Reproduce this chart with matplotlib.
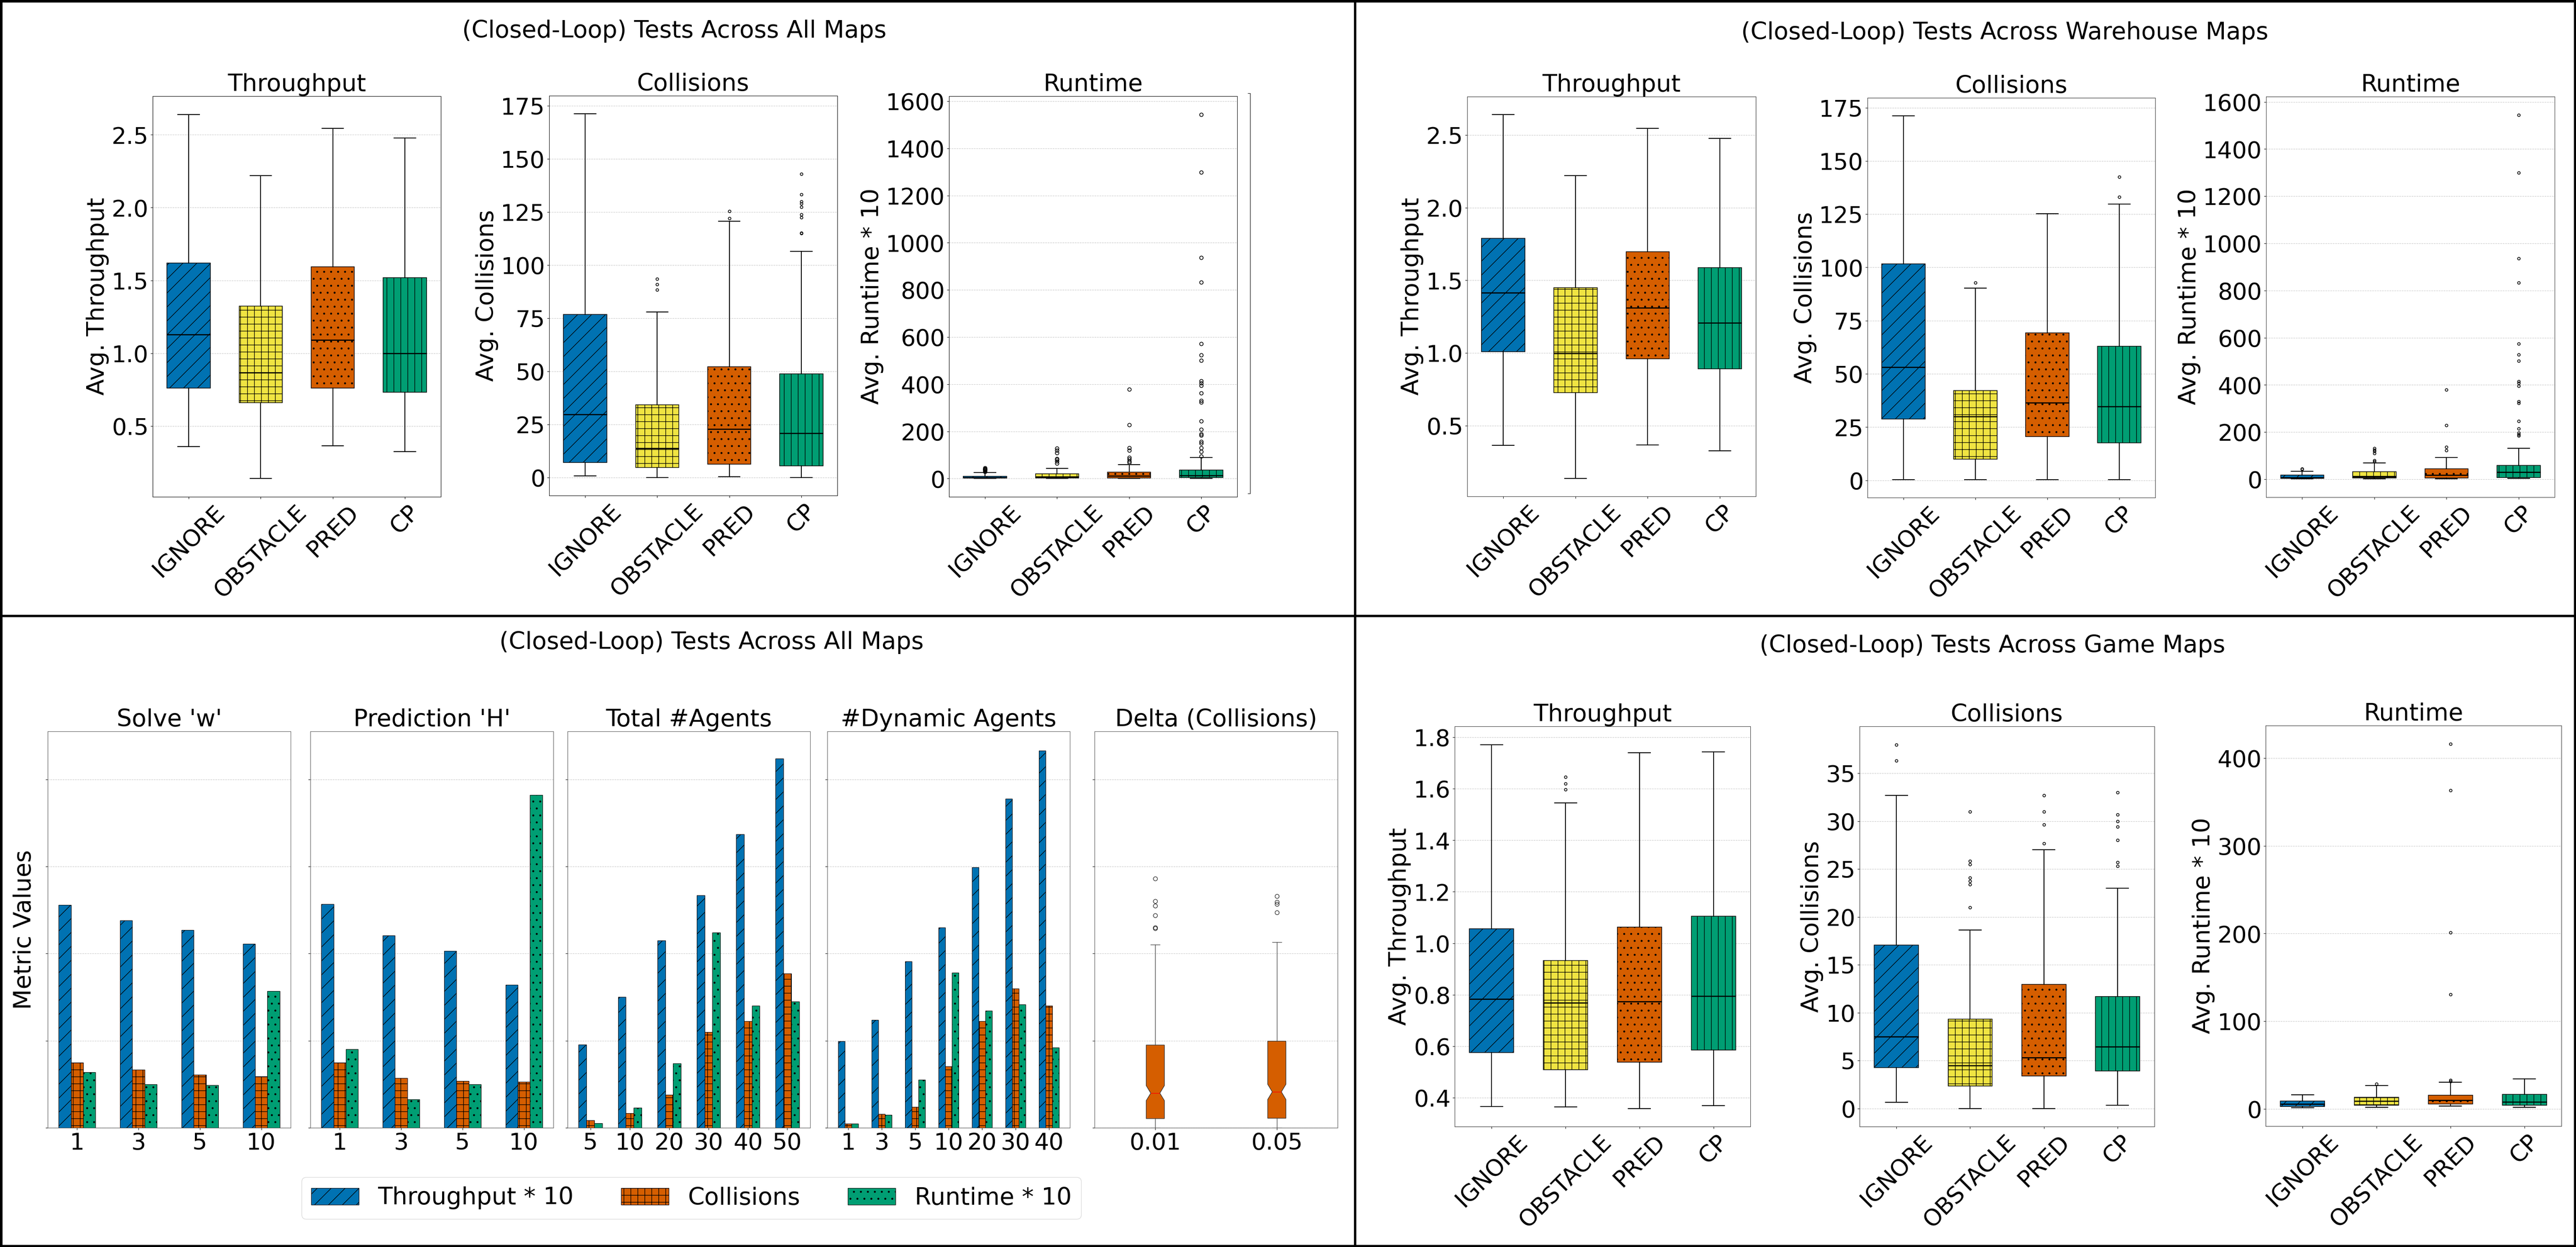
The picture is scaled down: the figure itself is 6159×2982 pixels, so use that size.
import numpy as np
import matplotlib
matplotlib.use('Agg')
import matplotlib.pyplot as plt
from matplotlib.patches import Patch, Rectangle
from matplotlib.lines import Line2D

W, H = 6159, 2982
DPI = 100

methods = ['IGNORE', 'OBSTACLE', 'PRED', 'CP']
colors = ['#0072B2', '#F0E442', '#D55E00', '#009E73']
hatches = ['/', '+', '.', '|']

# box stats: [whislo, q1, med, q3, whishi] per method
# --- all maps
all_thr = [[0.36, 0.76, 1.13, 1.62, 2.64], [0.14, 0.66, 0.867, 1.325, 2.22],
           [0.366, 0.762, 1.092, 1.593, 2.545], [0.325, 0.732, 1.0, 1.518, 2.477]]
all_thr_fliers = [[], [], [], []]
all_col = [[0.7, 6.9, 29.7, 76.6, 171.1], [0.0, 4.6, 13.7, 34.1, 77.9],
           [0.4, 6.3, 22.8, 52.1, 120.5], [0.0, 5.4, 20.8, 48.8, 106.4]]
all_col_fliers = [[], [88.4, 90.8, 93.4], [122.0, 125.3],
                  [114.8, 115.1, 122.4, 123.7, 127.2, 128.8, 129.8, 133.1, 142.9]]
all_rt = [[0, 2, 5, 10, 25], [0, 2, 8, 20, 43.6], [0, 3, 12, 27, 60], [0, 5, 13, 37, 89]]
all_rt_fliers = [[30, 33, 36, 38, 40, 42, 45],
                 [65, 74, 80, 85, 109, 119, 129],
                 [69, 74, 82, 89, 119, 131, 228, 379],
                 [94, 114, 131, 149, 156, 183, 189, 209, 243, 323, 330, 362, 395, 405,
                  414, 501, 524, 571, 832, 936, 1298, 1544]]

# --- warehouse maps
wh_thr = [[0.363, 1.008, 1.415, 1.79, 2.64], [0.138, 0.726, 0.997, 1.45, 2.22],
          [0.366, 0.959, 1.312, 1.696, 2.545], [0.328, 0.892, 1.209, 1.588, 2.477]]
wh_thr_fliers = [[], [], [], []]
wh_col = [[0.4, 28.7, 53.1, 101.7, 171.1], [0.4, 10.0, 30.0, 42.2, 90.3],
          [0.4, 20.5, 36.4, 69.2, 125.2], [0.4, 17.6, 34.6, 62.9, 129.7]]
wh_col_fliers = [[], [92.9], [], [133.0, 142.6]]
wh_rt = [[1, 3, 8, 17, 33], [1, 5, 13, 32, 70], [1, 5, 18, 45, 92], [3, 7, 30, 59, 132]]
wh_rt_fliers = [[42, 45], [75, 80, 110, 118, 125, 132], [122, 136, 229, 380],
                [184, 189, 196, 214, 246, 323, 330, 395, 407, 415, 502, 529, 574, 833,
                 936, 1299, 1545]]

# --- game maps
gm_thr = [[0.367, 0.575, 0.784, 1.056, 1.771], [0.364, 0.509, 0.768, 0.932, 1.544],
          [0.359, 0.538, 0.774, 1.062, 1.740], [0.370, 0.585, 0.795, 1.104, 1.743]]
gm_thr_fliers = [[], [1.597, 1.62, 1.645], [], []]
gm_col = [[0.63, 4.27, 7.49, 17.06, 32.7], [0.0, 2.34, 4.48, 9.33, 18.65],
          [0.0, 3.39, 5.31, 12.97, 27.0], [0.33, 3.89, 6.44, 11.67, 23.0]]
gm_col_fliers = [[36.3, 38.0], [21.0, 23.4, 23.75, 24.1, 25.5, 25.85, 31.0],
                 [27.65, 29.65, 31.0, 32.7], [25.3, 25.7, 28.0, 29.4, 30.0, 30.7, 33.0]]
gm_rt = [[1, 2.7, 5.5, 8.7, 16], [1.8, 4.1, 8.7, 13.3, 26.5],
         [3.2, 5.5, 10, 15.5, 30.2], [1.8, 4.1, 7.8, 16.5, 34.3]]
gm_rt_fliers = [[], [28.3], [31.5, 32.9, 130.3, 201, 363.4, 416.5], []]

# y tick values
thr_ticks = [0.5, 1.0, 1.5, 2.0, 2.5]
col_ticks = [0, 25, 50, 75, 100, 125, 150, 175]
rt_ticks = [0, 200, 400, 600, 800, 1000, 1200, 1400, 1600]
gm_thr_ticks = [0.4, 0.6, 0.8, 1.0, 1.2, 1.4, 1.6, 1.8]
gm_col_ticks = [0, 5, 10, 15, 20, 25, 30, 35]
gm_rt_ticks = [0, 100, 200, 300, 400]

# --- parameter sweeps (bar charts)
w_labels = ['1', '3', '5', '10']
w_thr = [25.6, 23.8, 22.7, 21.1]
w_col = [7.48, 6.65, 6.1, 5.92]
w_rt = [6.38, 5.0, 4.9, 15.7]
h_labels = ['1', '3', '5', '10']
h_thr = [25.7, 22.1, 20.3, 16.4]
h_col = [7.48, 5.73, 5.37, 5.28]
h_rt = [9.04, 3.26, 5.0, 38.2]
ag_labels = ['5', '10', '20', '30', '40', '50']
ag_thr = [9.54, 15.0, 21.5, 26.7, 33.7, 42.4]
ag_col = [0.87, 1.7, 3.8, 11.0, 12.25, 17.7]
ag_rt = [0.55, 2.29, 7.4, 22.4, 14.0, 14.5]
dyn_labels = ['1', '3', '5', '10', '20', '30', '40']
dyn_thr = [9.95, 12.4, 19.1, 23.0, 29.9, 37.75, 43.3]
dyn_col = [0.46, 1.56, 2.39, 7.06, 12.25, 15.96, 14.0]
dyn_rt = [0.5, 1.51, 5.5, 17.8, 13.44, 14.17, 9.22]
delta_labels = ['0.01', '0.05']
delta_box = [[0.0, 1.06, 3.98, 9.5, 21.0], [0.0, 1.1, 4.13, 9.95, 21.3]]
delta_ci = [[3.12, 4.85], [3.25, 5.0]]
delta_fliers = [[22.9, 23.0, 24.4, 25.5, 26.0, 28.6], [24.7, 25.7, 25.9, 26.6]]

bar_names = ['Throughput * 10', 'Collisions', 'Runtime * 10']
bar_colors = ['#0072B2', '#D55E00', '#009E73']
bar_hatches = ['/', '+', '.']

FS = 40
TFS = 41

plt.rcParams['hatch.linewidth'] = 1.0
fig = plt.figure(figsize=(W / DPI, H / DPI), dpi=DPI)


def rect(l, t, r, b):
    return [l / W, 1 - b / H, (r - l) / W, (b - t) / H]


def make_stats(five, fliers, ci=None):
    out = []
    for i, (f, fl) in enumerate(zip(five, fliers)):
        d = dict(whislo=f[0], q1=f[1], med=f[2], q3=f[3], whishi=f[4], fliers=fl)
        if ci is not None:
            d['cilo'], d['cihi'] = ci[i]
        out.append(d)
    return out


def box_panel(pos, five, fliers, title, ylabel, yticks, spine='black', msize=5):
    ax = fig.add_axes(rect(*pos))
    bp = ax.bxp(make_stats(five, fliers), positions=range(1, 5), widths=0.6,
                patch_artist=True,
                boxprops=dict(edgecolor='black', linewidth=1.1),
                whiskerprops=dict(color='black', linewidth=1.5),
                capprops=dict(color='black', linewidth=1.5),
                medianprops=dict(color='black', linewidth=2),
                flierprops=dict(marker='o', markersize=msize, markerfacecolor='none',
                                markeredgecolor='black', markeredgewidth=1.2))
    for patch, c, h in zip(bp['boxes'], colors, hatches):
        patch.set_facecolor(c)
        patch.set_hatch(h)
    ax.set_xlim(0.5, 4.5)
    ax.set_xticks(range(1, 5))
    ax.set_xticklabels(methods, rotation=45, fontsize=FS)
    ax.set_yticks(yticks)
    ax.tick_params(axis='y', labelsize=FS)
    ax.set_title(title, fontsize=TFS)
    ax.set_ylabel(ylabel, fontsize=TFS)
    ax.yaxis.grid(True, linestyle='--', color='#c8c8c8', linewidth=0.8)
    ax.set_axisbelow(True)
    for s in ax.spines.values():
        s.set_color(spine)
    return ax


# ---------- top-left: all maps ----------
box_panel((365, 230, 1054, 1188), all_thr, all_thr_fliers, 'Throughput', 'Avg. Throughput', thr_ticks)
box_panel((1313, 229, 2002, 1185), all_col, all_col_fliers, 'Collisions', 'Avg. Collisions',
          col_ticks, msize=4.5)
box_panel((2269, 230, 2958, 1188), all_rt, all_rt_fliers, 'Runtime', 'Avg. Runtime * 10',
          rt_ticks, msize=6)
# stray spine next to the runtime panel
ghost = fig.add_axes(rect(2989, 223, 2990, 1180))
for k, s in ghost.spines.items():
    s.set_visible(k == 'left')
ghost.set_xticks([])
ghost.set_yticks([0, 1])
ghost.set_ylim(0, 1)
ghost.set_yticklabels([])
ghost.tick_params(axis='y', length=4)
ghost.patch.set_visible(False)
fig.text(1612 / W, 1 - 75 / H, '(Closed-Loop) Tests Across All Maps', fontsize=TFS,
         ha='center', va='center')

# ---------- top-right: warehouse maps ----------
box_panel((3508, 231, 4198, 1187), wh_thr, wh_thr_fliers, 'Throughput', 'Avg. Throughput',
          thr_ticks, spine='#333333')
box_panel((4465, 234, 5153, 1190), wh_col, wh_col_fliers, 'Collisions', 'Avg. Collisions',
          col_ticks, spine='#333333', msize=4.5)
box_panel((5418, 231, 6108, 1189), wh_rt, wh_rt_fliers, 'Runtime', 'Avg. Runtime * 10',
          rt_ticks, spine='#333333', msize=4.5)
fig.text(4793 / W, 1 - 78 / H, '(Closed-Loop) Tests Across Warehouse Maps', fontsize=TFS,
         ha='center', va='center')

# ---------- bottom-right: game maps ----------
box_panel((3478, 1737, 4185, 2694), gm_thr, gm_thr_fliers, 'Throughput', 'Avg. Throughput',
          gm_thr_ticks, spine='#333333', msize=4.5)
box_panel((4446, 1737, 5151, 2694), gm_col, gm_col_fliers, 'Collisions', 'Avg. Collisions',
          gm_col_ticks, spine='#333333', msize=4.5)
box_panel((5417, 1735, 6124, 2693), gm_rt, gm_rt_fliers, 'Runtime', 'Avg. Runtime * 10',
          gm_rt_ticks, spine='#333333', msize=4.5)
fig.text(4764 / W, 1 - 1545 / H, '(Closed-Loop) Tests Across Game Maps', fontsize=TFS,
         ha='center', va='center')

# ---------- bottom-left: parameter sweeps ----------
YMAX = 45.5


def style_bl(ax, title):
    ax.set_ylim(0, YMAX)
    ax.set_yticks([0, 10, 20, 30, 40])
    ax.set_yticklabels([])
    ax.tick_params(axis='x', labelsize=FS)
    ax.set_title(title, fontsize=TFS)
    ax.yaxis.grid(True, linestyle='--', color='#c8c8c8', linewidth=0.8)
    ax.set_axisbelow(True)
    for s in ax.spines.values():
        s.set_color('#555555')


def bar_panel(l, r, labels, thr, col, rt, title):
    ax = fig.add_axes(rect(l, 1749, r, 2697))
    x = np.arange(len(labels))
    for off, vals, c, h in zip([-0.2, 0, 0.2], [thr, col, rt], bar_colors, bar_hatches):
        ax.bar(x + off, vals, 0.2, color=c, hatch=h, edgecolor='black', linewidth=0.8)
    ax.set_xticks(x)
    ax.set_xticklabels(labels)
    style_bl(ax, title)
    return ax


ax0 = bar_panel(114, 695, w_labels, w_thr, w_col, w_rt, "Solve 'w'")
ax0.set_ylabel('Metric Values', fontsize=TFS, labelpad=13)
bar_panel(742, 1323, h_labels, h_thr, h_col, h_rt, "Prediction 'H'")
bar_panel(1357, 1937, ag_labels, ag_thr, ag_col, ag_rt, 'Total #Agents')
bar_panel(1978, 2558, dyn_labels, dyn_thr, dyn_col, dyn_rt, '#Dynamic Agents')

axd = fig.add_axes(rect(2617, 1749, 3198, 2697))
bpd = axd.bxp(make_stats(delta_box, delta_fliers, delta_ci), positions=[1, 2], widths=0.15,
              patch_artist=True, shownotches=True,
              boxprops=dict(facecolor='#D55E00', edgecolor='#333333', linewidth=1),
              medianprops=dict(color='red', linewidth=1),
              whiskerprops=dict(color='#444444', linewidth=1),
              capprops=dict(color='#444444', linewidth=1),
              flierprops=dict(marker='o', markersize=7, markerfacecolor='none',
                              markeredgecolor='black', markeredgewidth=0.8))
axd.set_xlim(0.5, 2.5)
axd.set_xticks([1, 2])
axd.set_xticklabels(delta_labels)
style_bl(axd, 'Delta (Collisions)')

handles = [Patch(facecolor=c, hatch=h, edgecolor='black', linewidth=0.8)
           for c, h in zip(bar_colors, bar_hatches)]
fig.legend(handles, bar_names, loc='center', ncol=3, fontsize=TFS,
           bbox_to_anchor=(1653 / W, 1 - 2865 / H), edgecolor='#d0d0d0')
fig.text(1701 / W, 1 - 1537 / H, '(Closed-Loop) Tests Across All Maps', fontsize=TFS,
         ha='center', va='center')

# ---------- quadrant borders ----------
fig.add_artist(Rectangle((0, 0), 1, 1, transform=fig.transFigure, fill=False,
                         edgecolor='black', linewidth=8))
fig.add_artist(Line2D([3240 / W, 3240 / W], [0, 1], transform=fig.transFigure,
                      color='black', linewidth=4))
fig.add_artist(Line2D([0, 1], [1 - 1473 / H, 1 - 1473 / H], transform=fig.transFigure,
                      color='black', linewidth=4))

fig.savefig('out.png', dpi=DPI, facecolor='white')
